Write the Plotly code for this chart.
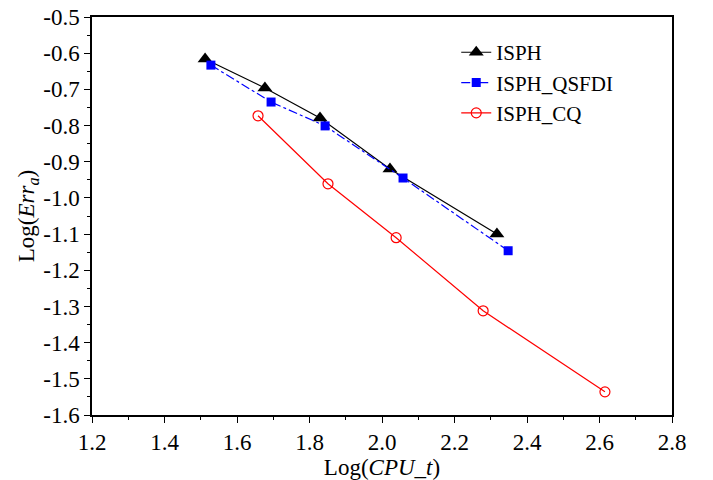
import plotly.graph_objects as go

isph_x = [1.512, 1.677, 1.829, 2.022, 2.317]
isph_y = [-0.616, -0.696, -0.779, -0.920, -1.100]
qsfdi_x = [1.528, 1.694, 1.843, 2.058, 2.348]
qsfdi_y = [-0.633, -0.735, -0.801, -0.945, -1.146]
cq_x = [1.658, 1.851, 2.039, 2.279, 2.615]
cq_y = [-0.773, -0.961, -1.110, -1.312, -1.536]

x_ticks = [1.2, 1.4, 1.6, 1.8, 2.0, 2.2, 2.4, 2.6, 2.8]
y_ticks = [-0.5, -0.6, -0.7, -0.8, -0.9, -1.0, -1.1, -1.2, -1.3, -1.4, -1.5, -1.6]

font_family = "Liberation Serif"

fig = go.Figure()
fig.add_trace(go.Scatter(x=isph_x, y=isph_y, name="ISPH", mode="lines+markers",
                         line=dict(color="black", width=1.2),
                         marker=dict(symbol="triangle-up", size=13, color="black")))
fig.add_trace(go.Scatter(x=qsfdi_x, y=qsfdi_y, name="ISPH_QSFDI", mode="lines+markers",
                         line=dict(color="blue", width=1.2, dash="dashdot"),
                         marker=dict(symbol="square", size=9, color="blue")))
fig.add_trace(go.Scatter(x=cq_x, y=cq_y, name="ISPH_CQ", mode="lines+markers",
                         line=dict(color="red", width=1.2),
                         marker=dict(symbol="circle-open", size=10, color="red", line=dict(width=1.2))))

axis_common = dict(showgrid=False, zeroline=False, showline=True, linecolor="black",
                   linewidth=1.5, mirror=True, ticks="outside", ticklen=6, tickwidth=1.2,
                   tickcolor="black", tickfont=dict(family=font_family, size=23, color="black"))

fig.update_xaxes(range=[1.2, 2.8], tickvals=x_ticks, ticktext=[f"{v:.1f}" for v in x_ticks],
                 minor=dict(dtick=0.1, ticks="outside", ticklen=3, tickcolor="black"),
                 title=dict(text="Log(<i>CPU_t</i>)", font=dict(family=font_family, size=23, color="black"),
                            standoff=2),
                 **axis_common)
fig.update_yaxes(range=[-1.6, -0.5], tickvals=y_ticks, ticktext=[f"{v:.1f}" for v in y_ticks],
                 minor=dict(dtick=0.05, tick0=-0.5, ticks="outside", ticklen=3, tickcolor="black"),
                 title=dict(text="Log(<i>Err</i><sub><i>a</i></sub>)", font=dict(family=font_family, size=23, color="black"),
                            standoff=2),
                 **axis_common)

fig.update_layout(
    width=713, height=480,
    margin=dict(l=92, r=41, t=17, b=65, autoexpand=False),
    plot_bgcolor="white", paper_bgcolor="white",
    legend=dict(x=0.628, y=0.962, xanchor="left", yanchor="top",
                font=dict(family=font_family, size=21, color="black"),
                bgcolor="rgba(0,0,0,0)", tracegroupgap=0),
    showlegend=True,
)

fig.write_html("out.html", config={"displayModeBar": False},
               post_script="document.body.style.margin='0';")
